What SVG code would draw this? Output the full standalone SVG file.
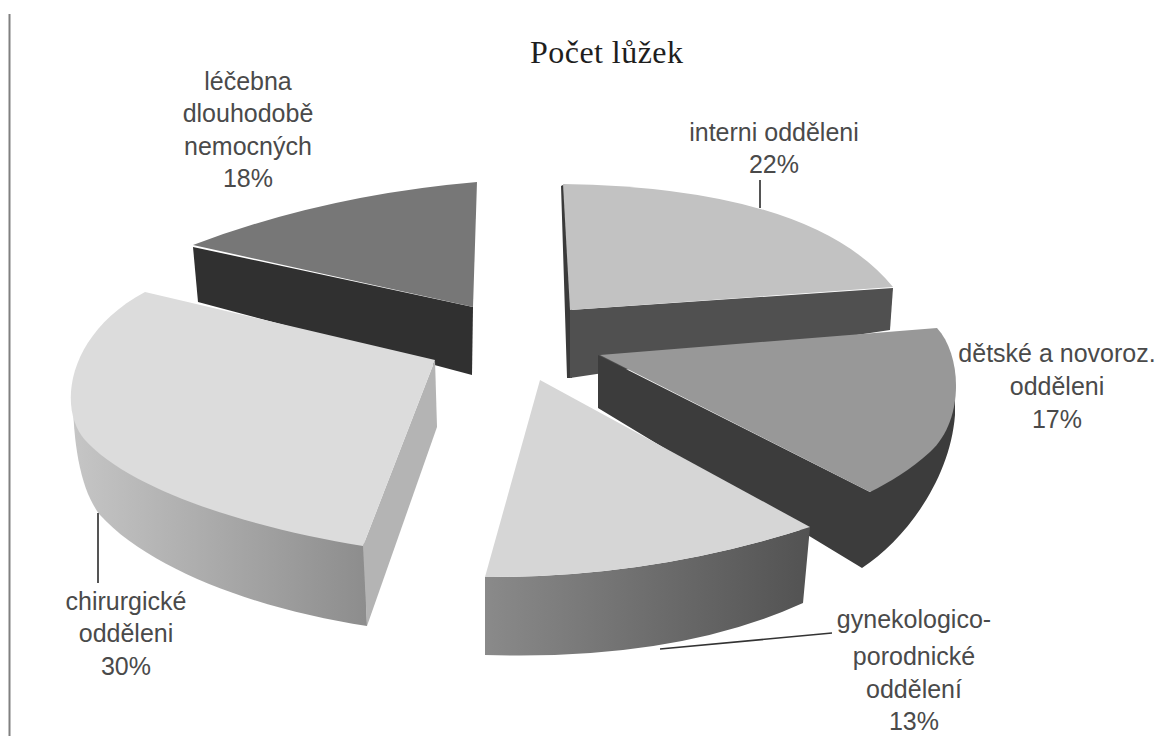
<svg xmlns="http://www.w3.org/2000/svg" width="1158" height="736" viewBox="0 0 1158 736">
<defs>
<style>
.lbl{font-family:"Liberation Sans","DejaVu Sans",sans-serif;font-size:25px;fill:#4a4a4a;text-anchor:middle}
.ttl{font-family:"Liberation Serif","DejaVu Serif",serif;font-size:32px;fill:#1e1e1e}
.lead{stroke:#555;stroke-width:2;fill:none}
</style>
<linearGradient id="gChir" x1="70" y1="0" x2="370" y2="0" gradientUnits="userSpaceOnUse">
<stop offset="0" stop-color="#c6c6c6"/><stop offset="1" stop-color="#8c8c8c"/>
</linearGradient>
<linearGradient id="gGyn" x1="485" y1="0" x2="810" y2="0" gradientUnits="userSpaceOnUse">
<stop offset="0" stop-color="#8a8a8a"/><stop offset="1" stop-color="#525252"/>
</linearGradient>
</defs>
<rect width="1158" height="736" fill="#fff"/>
<line x1="9.5" y1="14" x2="9.5" y2="736" stroke="#808080" stroke-width="2"/>
<text class="ttl" x="530" y="63" textLength="153">Počet lůžek</text>

<g id="slice-lecebna">
<path d="M193,247 L473,307 L472,375 L198,302 Z" fill="#303030"/>
<path d="M193,245 Q325,195 477,182 L473,307 Z" fill="#777777"/>
</g>

<g id="slice-interni">
<path d="M561,186 L565,184 L572,310 L572,378 L567,378 Z" fill="#3a3a3a"/>
<path d="M570,310 L893,288 L890,330 L570,378 Z" fill="#505050"/>
<path d="M563,184 Q812,188 893,287 L570,310 Z" fill="#c2c2c2"/>
</g>

<g id="slice-detske">
<path d="M598,355 L598,408 L862,568 C905,540 950,480 955,415 L955,400 L870,492 Z" fill="#3c3c3c"/>
<path d="M600,355 L937,328 C962,355 965,420 930,452 C910,470 890,482 870,492 Z" fill="#989898"/>
</g>

<g id="slice-chirurgicke">
<path d="M73,385 C72,440 80,490 100,515 C150,570 260,610 367,626 L363,500 L100,380 Z" fill="url(#gChir)"/>
<path d="M435,360 L437,427 L367,626 L363,546 Z" fill="#b4b4b4"/>
<path d="M145,292 L435,360 L363,546 C250,528 130,490 85,440 C58,410 65,335 145,292 Z" fill="#dcdcdc"/>
</g>

<g id="slice-gynekologicke">
<path d="M485,577 L485,655 Q676,661 803,603 L810,527 Q652,578 485,577 Z" fill="url(#gGyn)"/>
<path d="M540,380 L810,527 Q652,578 485,577 Z" fill="#d6d6d6"/>
</g>

<g id="connectors">
<line class="lead" x1="760" y1="180" x2="760" y2="208"/>
<line class="lead" x1="98" y1="513" x2="98" y2="583"/>
<line x1="660" y1="649" x2="832" y2="633" stroke="#333" stroke-width="1.6"/>
</g>

<g id="label-lecebna">
<text class="lbl" x="248" y="90">léčebna</text>
<text class="lbl" x="248" y="122">dlouhodobě</text>
<text class="lbl" x="248" y="155">nemocných</text>
<text class="lbl" x="248" y="187">18%</text>
</g>
<g id="label-interni">
<text class="lbl" x="774" y="141">interni odděleni</text>
<text class="lbl" x="774" y="173">22%</text>
</g>
<g id="label-detske">
<text class="lbl" x="1057" y="362">dětské a novoroz.</text>
<text class="lbl" x="1057" y="395">odděleni</text>
<text class="lbl" x="1057" y="428">17%</text>
</g>
<g id="label-gyn">
<text class="lbl" x="914" y="628">gynekologico-</text>
<text class="lbl" x="914" y="665">porodnické</text>
<text class="lbl" x="914" y="698">oddělení</text>
<text class="lbl" x="914" y="730">13%</text>
</g>
<g id="label-chir">
<text class="lbl" x="126" y="610">chirurgické</text>
<text class="lbl" x="126" y="642">odděleni</text>
<text class="lbl" x="126" y="675">30%</text>
</g>
</svg>
